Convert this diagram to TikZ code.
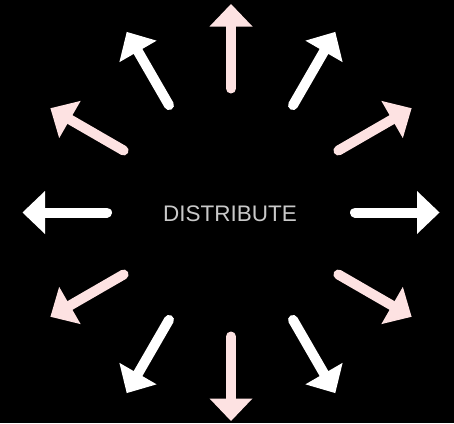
\documentclass[tikz,border=0pt]{standalone}
\usepackage{fontspec}
\setmainfont{Liberation Sans}
\definecolor{pinkarrow}{HTML}{FDE2E2}
\definecolor{whitearrow}{HTML}{FFFFFF}
\definecolor{labelgray}{HTML}{C9C9C9}
\begin{document}
\begin{tikzpicture}[x=1pt,y=1pt,
  shaftstyle/.style={line width=10pt, line cap=round},
  ]
\fill[black] (0,0) rectangle (454,-423);
\useasboundingbox (0,0) rectangle (454,-423);
\coordinate (c) at (231,-212.5);
\foreach \a/\col in {90/pinkarrow,60/whitearrow,30/pinkarrow,0/whitearrow,-30/pinkarrow,-60/whitearrow,-90/pinkarrow,-120/whitearrow,-150/pinkarrow,180/whitearrow,150/pinkarrow,120/whitearrow}{
  \begin{scope}[shift={(c)}, rotate=\a]
    \draw[shaftstyle, draw=\col] (124,0) -- (188,0);
    \fill[\col, line join=round] (186,21.5) -- (208.5,0) -- (186,-21.5) -- cycle;
  \end{scope}
}
\node[text=labelgray, font=\fontsize{22.5}{26}\selectfont] (lbl) at (230,-214) {DISTRIBUTE};
\end{tikzpicture}
\end{document}
